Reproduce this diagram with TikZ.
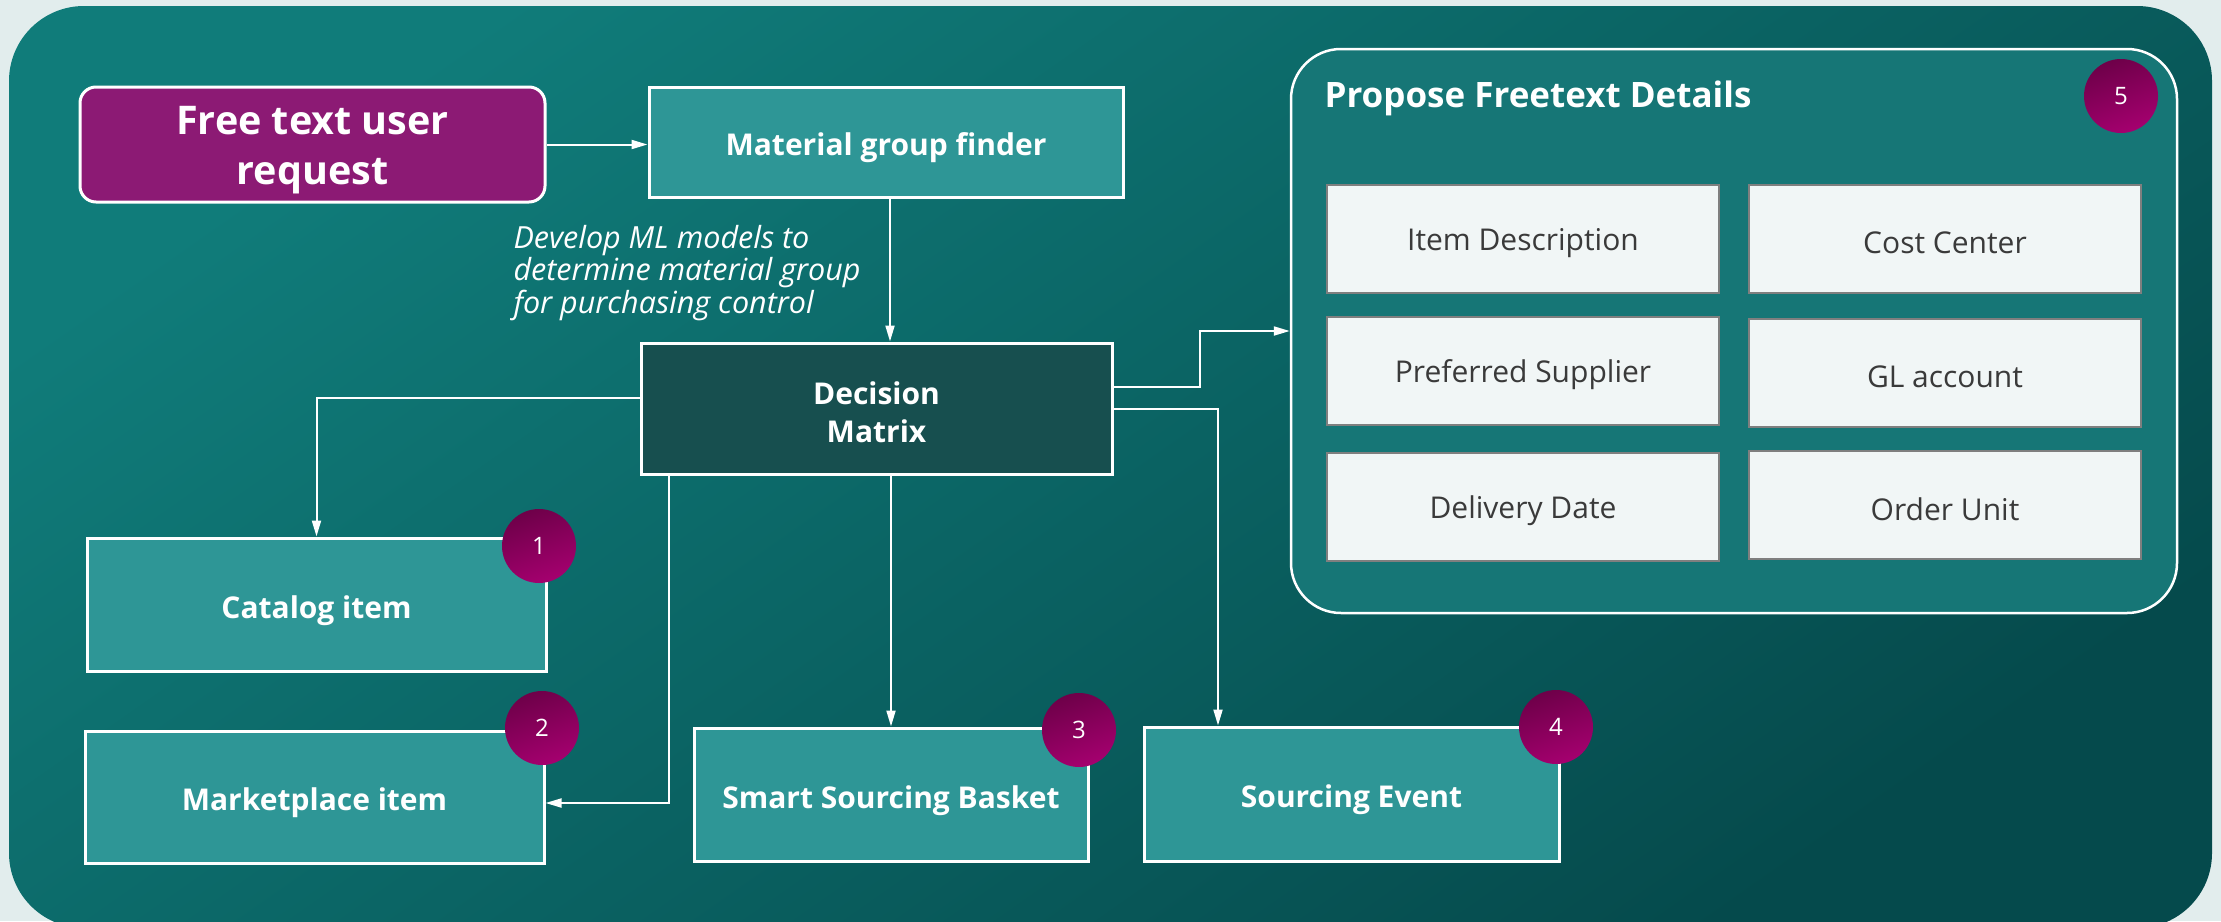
\documentclass[tikz,border=0pt]{standalone}
\usepackage{fontspec}
\setmainfont{Open Sans}
\usetikzlibrary{arrows.meta,calc}
\definecolor{outerbg}{HTML}{E2EDED}
\definecolor{bgtop}{HTML}{107C7A}
\definecolor{bgbot}{HTML}{054A4C}
\definecolor{reqpurple}{HTML}{8C1A74}
\definecolor{boxteal}{HTML}{2E9696}
\definecolor{dmteal}{HTML}{174F4F}
\definecolor{panelteal}{HTML}{167676}
\definecolor{innerfill}{HTML}{F1F6F6}
\definecolor{innerdraw}{HTML}{7F7F7F}
\definecolor{innertext}{HTML}{3A3A3A}
\definecolor{badgetop}{HTML}{6E0049}
\definecolor{badgebot}{HTML}{A5006F}
\tikzset{
  tbox/.style={draw=white, line width=3pt, fill=boxteal, inner sep=0pt},
  tlbl/.style={text=white, align=center, inner sep=0pt, yshift=-6pt,
    font=\bfseries\fontsize{30}{38}\selectfont},
  ibox/.style={draw=innerdraw, line width=2.5pt, fill=innerfill, inner sep=0pt,
    minimum width=392pt, minimum height=108pt},
  ilbl/.style={text=innertext, inner sep=0pt, yshift=-4pt, font=\fontsize{30}{36}\selectfont},
  badge/.style={circle, minimum size=74pt, inner sep=0pt, top color=badgetop, bottom color=badgebot,
    shading angle=20, text=white, font=\fontsize{24}{28}\selectfont},
  conn/.style={draw=white, line width=2pt},
  arr/.style={conn, -{Triangle[length=16pt,width=9pt]}},
}
\begin{document}
\begin{tikzpicture}[x=1pt,y=-1pt]
\fill[outerbg] (0,0) rectangle (2221,921);
\useasboundingbox (0,0) rectangle (2221,921);
\begin{scope}
\clip (0,0) rectangle (2221,921);
\shade[top color=bgtop, bottom color=bgbot, shading angle=35, rounded corners=75pt]
  (9,6) rectangle (2212,928);
\end{scope}

% Propose panel
\node[draw=white, line width=2.5pt, fill=panelteal, rounded corners=50pt,
  minimum width=886pt, minimum height=564pt] (pf) at (1734,331) {};
\node[anchor=west, text=white, font=\bfseries\fontsize{35}{42}\selectfont] (pft) at (1321,98.5) {Propose Freetext Details};
\node[ibox, label={[ilbl]center:Item Description}] (i1) at (1523,239) {};
\node[ibox, label={[ilbl]center:Cost Center}] (i2) at (1945,239) {};
\node[ibox, label={[ilbl]center:Preferred Supplier}] (i3) at (1523,371) {};
\node[ibox, label={[ilbl]center:GL account}] (i4) at (1945,373) {};
\node[ibox, label={[ilbl]center:Delivery Date}] (i5) at (1523,507) {};
\node[ibox, label={[ilbl]center:Order Unit}] (i6) at (1945,505) {};

% main boxes
\node[tbox, fill=reqpurple, rounded corners=16pt, minimum width=465pt, minimum height=115pt,
  label={[tlbl, font=\bfseries\fontsize{39.5}{50}\selectfont]center:{Free text user\\request}}] (fr) at (312.5,144.5) {};
\node[tbox, minimum width=474pt, minimum height=110pt,
  label={[tlbl]center:Material group finder}] (mg) at (886,142) {};
\node[tbox, fill=dmteal, minimum width=471pt, minimum height=131pt,
  label={[tlbl, yshift=2pt]center:{Decision\\Matrix}}] (dm) at (876.5,408.5) {};
\node[tbox, minimum width=459pt, minimum height=133pt,
  label={[tlbl]center:Catalog item}] (cat) at (316.5,604.5) {};
\node[tbox, minimum width=459pt, minimum height=132pt,
  label={[tlbl]center:Marketplace item}] (mp) at (314.5,797) {};
\node[tbox, minimum width=394pt, minimum height=133pt,
  label={[tlbl]center:Smart Sourcing Basket}] (ssb) at (891,794.5) {};
\node[tbox, minimum width=415pt, minimum height=134pt,
  label={[tlbl]center:Sourcing Event}] (se) at (1351.5,794) {};

\node[anchor=west, align=left, text=white, font=\itshape\fontsize{30.5}{32.5}\selectfont] (note) at (510,273)
  {Develop ML models to\\determine material group\\for purchasing control};

% badges
\node[badge] (b1) at (539,546) {1};
\node[badge] (b2) at (542,728) {2};
\node[badge] (b3) at (1079,730) {3};
\node[badge] (b4) at (1556,727) {4};
\node[badge] (b5) at (2121,96) {5};

% connectors
\coordinate (j1) at (1200,0);
\coordinate (j2) at (1218,0);
\draw[arr] (fr.east) -- (fr.east -| mg.west);
\draw[arr] ([xshift=4pt]mg.south) -- ([xshift=4pt]mg.south |- dm.north);
\draw[arr] ([yshift=10.5pt]dm.west) -| (cat.north);
\draw[arr] ([xshift=-207.5pt]dm.south) |- ([yshift=-6pt]mp.east);
\draw[arr] (ssb.north |- dm.south) -- (ssb.north);
\draw[arr] (dm.east) -| (j2 |- se.north);
\draw[arr] ([yshift=21.5pt]dm.east) -| (j1 |- pf.west) -- (pf.west);
\end{tikzpicture}
\end{document}
